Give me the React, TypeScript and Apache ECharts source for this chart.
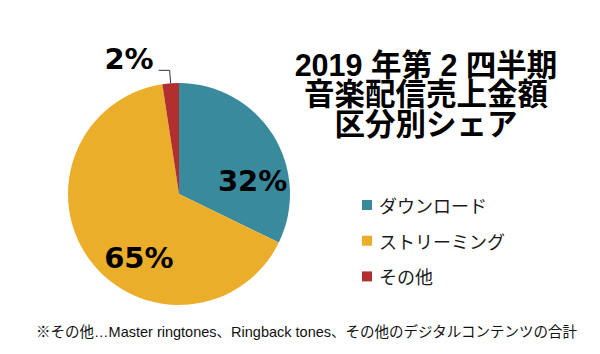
import React, { useEffect, useRef } from "react";
import * as echarts from "echarts";

const categories = ["ダウンロード", "ストリーミング", "その他"];
const shares = [32.2, 65.4, 2.4];
const colors = ["#398A9D", "#EBAE2B", "#B22F30"];
const titleLines = ["2019 年第 2 四半期", "音楽配信売上金額", "区分別シェア"];
const footnote = "※その他…Master ringtones、Ringback tones、その他のデジタルコンテンツの合計";

export default function App() {
  const ref = useRef<HTMLDivElement>(null);
  useEffect(() => {
    const chart = echarts.init(ref.current as HTMLDivElement, null, { renderer: "svg" });
    const labelOffsets: (number[] | null)[] = [[24, 18], [7, 29], null];
    chart.setOption({
      animation: false,
      color: colors,
      legend: {
        orient: "vertical",
        left: 357,
        top: 191,
        itemWidth: 10,
        itemHeight: 10,
        itemGap: 17.7,
        icon: "rect",
        selectedMode: false,
        data: categories,
        textStyle: {
          fontSize: 18,
          fontFamily: '"Noto Sans CJK JP", sans-serif',
          color: "#1a1a1a",
          padding: [0, 0, 0, 2],
        },
      },
      graphic: [
        ...titleLines.map((t, i) => ({
          type: "text",
          x: 426,
          y: 64.5 + i * 29.5,
          style: {
            text: t,
            align: "center",
            verticalAlign: "middle",
            fontSize: 30.5,
            lineHeight: 29,
            fontWeight: "bold",
            fontFamily: '"Liberation Sans", "Noto Sans CJK JP", sans-serif',
            fill: "#000",
          },
        })),
        {
          type: "text",
          x: 306.5,
          y: 332,
          style: {
            text: footnote,
            align: "center",
            verticalAlign: "middle",
            fontSize: 14.5,
            fontFamily: '"Liberation Sans", "Noto Sans CJK JP", sans-serif',
            fill: "#111",
          },
        },
      ],
      series: [
        {
          type: "pie",
          center: [179, 194],
          radius: 111,
          startAngle: 90,
          clockwise: true,
          avoidLabelOverlap: false,
          itemStyle: { borderWidth: 0 },
          label: {
            formatter: (p: any) => Math.round(p.percent) + "%",
            fontFamily: '"DejaVu Sans", sans-serif',
            fontWeight: "bold",
            fontSize: 29,
            color: "#000",
          },
          labelLine: {
            show: true,
            length: 13,
            length2: 11,
            lineStyle: { color: "#333", width: 1 },
          },
          labelLayout: (params: any) => {
            const o = labelOffsets[params.dataIndex];
            return o ? { dx: o[0], dy: o[1] } : {};
          },
          data: categories.map((name, i) => ({
            name,
            value: shares[i],
            label:
              i < 2
                ? { position: "inside" }
                : {
                    position: "outside",
                    lineHeight: 22,
                    formatter: (p: any) => Math.round(p.percent) + "%\n ",
                  },
            labelLine: { show: i >= 2 },
          })),
        },
      ],
    });
    return () => chart.dispose();
  }, []);
  return (
    <div
      ref={ref}
      style={{ position: "fixed", left: 0, top: 0, width: 600, height: 354, background: "#fff" }}
    />
  );
}
